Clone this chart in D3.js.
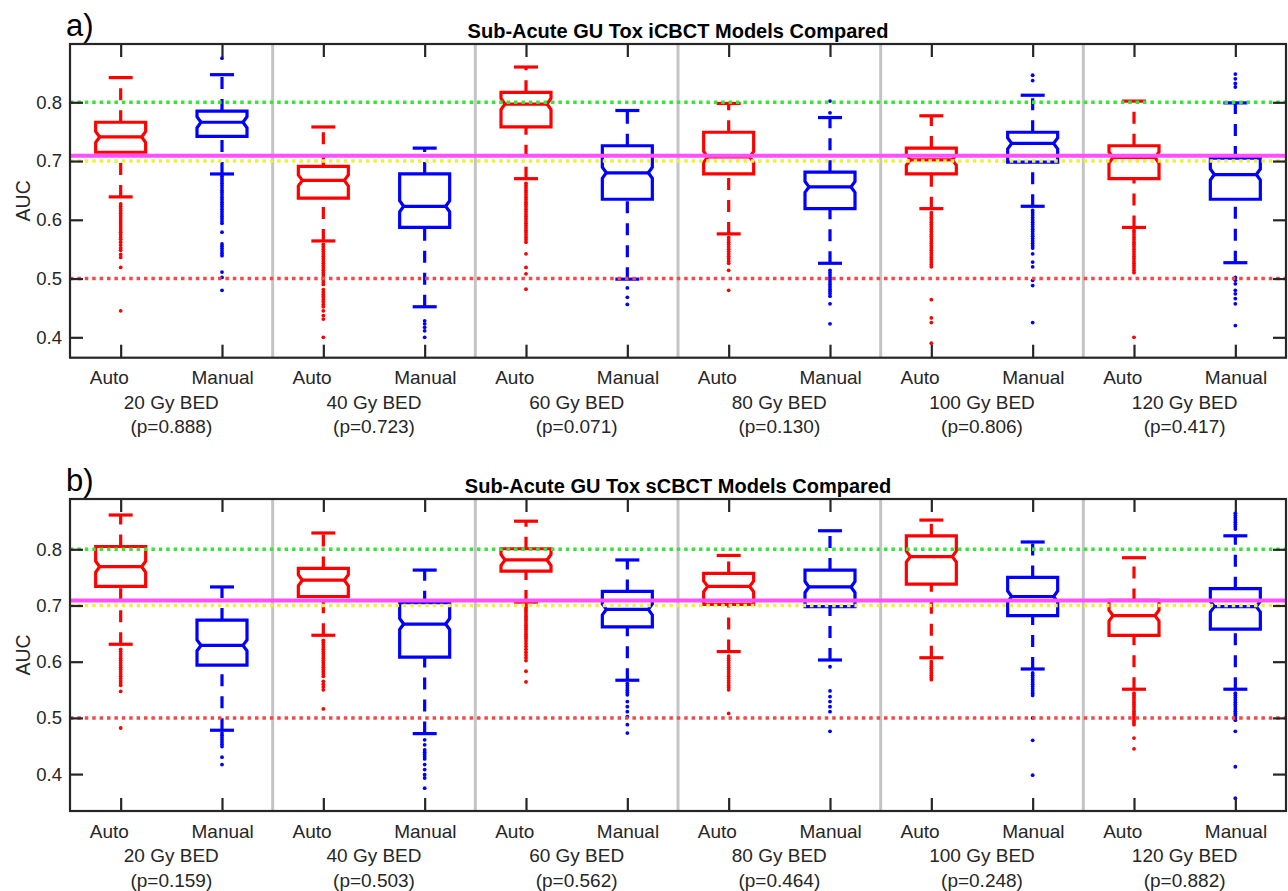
<!DOCTYPE html>
<html>
<head>
<meta charset="utf-8">
<script src="https://cdn.jsdelivr.net/npm/d3@7"></script>
<style>
  html, body { margin: 0; padding: 0; background: #fff; }
  svg { display: block; font-family: "Liberation Sans", Arial, Helvetica, sans-serif; }
</style>
</head>
<body>
<svg id="chart" width="1288" height="891"></svg>
<script>
// ---------------- DATA ----------------
const categories = ["Auto", "Manual"];
const doses = ["20 Gy BED", "40 Gy BED", "60 Gy BED", "80 Gy BED", "100 Gy BED", "120 Gy BED"];
const pValuesA = ["0.888", "0.723", "0.071", "0.130", "0.806", "0.417"];
const pValuesB = ["0.159", "0.503", "0.562", "0.464", "0.248", "0.882"];
const yTicks = [0.4, 0.5, 0.6, 0.7, 0.8];
const titles = ["Sub-Acute GU Tox iCBCT Models Compared", "Sub-Acute GU Tox sCBCT Models Compared"];
const panelLabels = ["a)", "b)"];
const yDomainA = [0.3653, 0.8992];
const yDomainB = [0.3343, 0.8895];
// reference lines: good (0.8), acceptable (0.7), chance (0.5), reference model (0.709)
const refGood = 0.8, refFair = 0.7, refChance = 0.5, refModel = 0.709;

// Box order: Auto20, Manual20, Auto40, Manual40, ..., Auto120, Manual120
const upperA  = [0.842, 0.847, 0.758, 0.722, 0.860, 0.786, 0.798, 0.774, 0.777, 0.812, 0.802, 0.799];
const q3A     = [0.766, 0.785, 0.691, 0.678, 0.817, 0.726, 0.749, 0.681, 0.722, 0.749, 0.726, 0.705];
const medianA = [0.741, 0.766, 0.667, 0.623, 0.797, 0.680, 0.707, 0.656, 0.702, 0.730, 0.706, 0.677];
const q1A     = [0.715, 0.742, 0.637, 0.587, 0.758, 0.635, 0.678, 0.619, 0.678, 0.698, 0.670, 0.635];
const lowerA  = [0.639, 0.678, 0.564, 0.452, 0.670, 0.499, 0.576, 0.526, 0.619, 0.623, 0.587, 0.527];
const outliersA = [
  [0.627,0.623,0.619,0.615,0.611,0.607,0.603,0.599,0.595,0.591,0.587,0.583,0.579,0.575,0.571,0.567,0.562,0.557,0.552,0.548,0.541,0.536,0.519,0.445],
  [0.875,0.674,0.670,0.666,0.662,0.658,0.654,0.650,0.646,0.642,0.638,0.634,0.630,0.626,0.622,0.618,0.614,0.610,0.606,0.602,0.598,0.594,0.579,0.559,0.555,0.551,0.547,0.543,0.539,0.511,0.502,0.480],
  [0.558,0.554,0.550,0.546,0.542,0.538,0.534,0.530,0.526,0.522,0.518,0.514,0.510,0.506,0.502,0.498,0.494,0.490,0.481,0.477,0.473,0.469,0.465,0.461,0.456,0.452,0.445,0.437,0.431,0.400],
  [0.428,0.423,0.417,0.411,0.400],
  [0.662,0.658,0.654,0.650,0.646,0.642,0.638,0.634,0.630,0.626,0.622,0.618,0.614,0.610,0.606,0.602,0.598,0.594,0.590,0.586,0.582,0.578,0.574,0.570,0.566,0.562,0.542,0.519,0.508,0.482],
  [0.484,0.468,0.456],
  [0.570,0.566,0.562,0.558,0.554,0.550,0.546,0.542,0.538,0.534,0.530,0.526,0.514,0.480],
  [0.802,0.782,0.514,0.510,0.506,0.502,0.498,0.494,0.490,0.486,0.482,0.478,0.474,0.470,0.457,0.423],
  [0.612,0.608,0.604,0.600,0.596,0.592,0.588,0.584,0.580,0.576,0.572,0.568,0.564,0.560,0.556,0.552,0.548,0.544,0.540,0.536,0.532,0.528,0.524,0.520,0.464,0.433,0.425,0.390],
  [0.846,0.837,0.616,0.612,0.608,0.604,0.600,0.596,0.592,0.588,0.584,0.580,0.576,0.572,0.568,0.564,0.560,0.556,0.552,0.542,0.528,0.520,0.497,0.488,0.425],
  [0.582,0.578,0.574,0.570,0.566,0.562,0.558,0.554,0.550,0.546,0.542,0.538,0.534,0.530,0.526,0.522,0.518,0.514,0.510,0.400],
  [0.848,0.840,0.832,0.826,0.502,0.497,0.491,0.480,0.474,0.466,0.457,0.420]
];

const upperB  = [0.861, 0.733, 0.829, 0.763, 0.850, 0.781, 0.789, 0.833, 0.852, 0.813, 0.785, 0.824];
const q3B     = [0.805, 0.674, 0.766, 0.705, 0.801, 0.725, 0.757, 0.763, 0.824, 0.750, 0.709, 0.730];
const medianB = [0.769, 0.629, 0.745, 0.667, 0.781, 0.693, 0.734, 0.733, 0.787, 0.716, 0.682, 0.698];
const q1B     = [0.734, 0.594, 0.716, 0.608, 0.761, 0.662, 0.702, 0.698, 0.738, 0.682, 0.647, 0.658];
const lowerB  = [0.631, 0.478, 0.647, 0.472, 0.706, 0.567, 0.618, 0.603, 0.607, 0.587, 0.551, 0.551];
const outliersB = [
  [0.622,0.618,0.614,0.610,0.606,0.602,0.598,0.594,0.590,0.586,0.582,0.578,0.574,0.570,0.566,0.562,0.558,0.547,0.482],
  [0.473,0.469,0.465,0.461,0.457,0.453,0.449,0.430,0.417],
  [0.638,0.634,0.630,0.626,0.622,0.618,0.614,0.610,0.606,0.602,0.598,0.594,0.590,0.586,0.582,0.578,0.574,0.565,0.560,0.555,0.550,0.516],
  [0.461,0.452,0.443,0.439,0.435,0.431,0.427,0.417,0.408,0.399,0.393,0.375],
  [0.701,0.697,0.693,0.689,0.685,0.681,0.677,0.673,0.669,0.665,0.661,0.657,0.653,0.649,0.645,0.641,0.637,0.632,0.627,0.622,0.617,0.612,0.607,0.602,0.583,0.564],
  [0.561,0.557,0.553,0.549,0.545,0.541,0.529,0.520,0.511,0.502,0.488,0.473],
  [0.610,0.606,0.602,0.598,0.594,0.590,0.586,0.582,0.578,0.574,0.570,0.566,0.562,0.558,0.554,0.550,0.508],
  [0.591,0.548,0.538,0.529,0.520,0.511,0.476],
  [0.600,0.596,0.592,0.588,0.584,0.580,0.576,0.572,0.568],
  [0.580,0.576,0.572,0.568,0.564,0.560,0.556,0.552,0.548,0.544,0.540,0.500,0.460,0.398],
  [0.544,0.540,0.536,0.532,0.528,0.524,0.520,0.516,0.512,0.508,0.504,0.500,0.496,0.492,0.488,0.464,0.445],
  [0.864,0.860,0.856,0.852,0.848,0.844,0.840,0.836,0.544,0.540,0.536,0.532,0.528,0.524,0.520,0.516,0.512,0.508,0.504,0.500,0.496,0.476,0.413,0.357]
];

// ---------------- LAYOUT / STYLE ----------------
const W = 1288, H = 891;
const plotLeft = 70, plotRight = 1286;
const panels = [
  { top: 44, bottom: 357.7, domain: yDomainA, titleY: 38, labelY: 36,
    upper: upperA, q3: q3A, med: medianA, q1: q1A, lower: lowerA, out: outliersA, p: pValuesA },
  { top: 499, bottom: 811, domain: yDomainB, titleY: 493, labelY: 491,
    upper: upperB, q3: q3B, med: medianB, q1: q1B, lower: lowerB, out: outliersB, p: pValuesB }
];
const colors = { Auto: "#ff0000", Manual: "#0000ff" };
const textColor = "#262626";
const boxHalf = 25, capHalf = 12, notchH = 5.5, notchIn = 4;
const markW = 3.2;

const svg = d3.select("#chart");
svg.append("rect").attr("width", W).attr("height", H).attr("fill", "#fff");

const nBoxes = doses.length * categories.length;
const positions = d3.range(1, nBoxes + 1);
const x = d3.scaleLinear().domain([0.5, nBoxes + 0.5]).range([plotLeft, plotRight]);

panels.forEach((P, pi) => {
  const y = d3.scaleLinear().domain(P.domain).range([P.bottom, P.top]);
  const g = svg.append("g");

  // group separators
  g.selectAll(".sep").data(d3.range(1, doses.length)).join("line")
    .attr("x1", d => x(d * 2 + 0.5)).attr("x2", d => x(d * 2 + 0.5))
    .attr("y1", P.top).attr("y2", P.bottom)
    .attr("stroke", "#c4c4c4").attr("stroke-width", 3);

  // boxes
  const boxes = positions.map((pos, i) => ({
    pos, cat: categories[i % 2],
    upper: P.upper[i], q3: P.q3[i], med: P.med[i], q1: P.q1[i], lower: P.lower[i], out: P.out[i]
  }));
  const bg = g.selectAll(".box").data(boxes).join("g").attr("class", "box");
  bg.each(function (d) {
    const s = d3.select(this);
    const c = colors[d.cat];
    const cx = x(d.pos);
    // outliers
    s.selectAll("circle").data(d.out).join("circle")
      .attr("cx", cx).attr("cy", v => y(v)).attr("r", 1.9).attr("fill", c);
    // upper whisker (from box to cap)
    s.append("line").attr("x1", cx).attr("x2", cx)
      .attr("y1", y(d.q3)).attr("y2", y(d.upper))
      .attr("stroke", c).attr("stroke-width", markW).attr("stroke-dasharray", "12,10");
    // lower whisker (from cap to box)
    s.append("line").attr("x1", cx).attr("x2", cx)
      .attr("y1", y(d.lower)).attr("y2", y(d.q1))
      .attr("stroke", c).attr("stroke-width", markW).attr("stroke-dasharray", "12,10");
    // caps
    [d.upper, d.lower].forEach(v => {
      s.append("line").attr("x1", cx - capHalf).attr("x2", cx + capHalf)
        .attr("y1", y(v)).attr("y2", y(v)).attr("stroke", c).attr("stroke-width", markW);
    });
    // notched box
    const yq1 = y(d.q1), yq3 = y(d.q3), ym = y(d.med);
    const L = cx - boxHalf, R = cx + boxHalf;
    const path = d3.path();
    path.moveTo(L, yq1);
    path.lineTo(L, ym + notchH); path.lineTo(L + notchIn, ym); path.lineTo(L, ym - notchH);
    path.lineTo(L, yq3); path.lineTo(R, yq3);
    path.lineTo(R, ym - notchH); path.lineTo(R - notchIn, ym); path.lineTo(R, ym + notchH);
    path.lineTo(R, yq1); path.closePath();
    s.append("path").attr("d", path.toString()).attr("fill", "none")
      .attr("stroke", c).attr("stroke-width", markW).attr("stroke-linejoin", "miter");
    s.append("line").attr("x1", L + notchIn).attr("x2", R - notchIn)
      .attr("y1", ym).attr("y2", ym).attr("stroke", c).attr("stroke-width", markW);
  });

  // reference lines
  const refs = [
    { v: refGood, c: "#38e438", w: 3.5, dash: "3.5,3.9" },
    { v: refFair, c: "#f0f03c", w: 3.5, dash: "3.5,3.9" },
    { v: refChance, c: "#f24a4a", w: 3.5, dash: "3.5,3.9" },
    { v: refModel, c: "#ff50ff", w: 4, dash: null }
  ];
  refs.forEach(r => {
    g.append("line").attr("x1", plotLeft).attr("x2", plotRight)
      .attr("y1", y(r.v)).attr("y2", y(r.v))
      .attr("stroke", r.c).attr("stroke-width", r.w)
      .attr("stroke-dasharray", r.dash);
  });

  // axes
  const axL = d3.axisLeft(y).tickValues(yTicks).tickSizeInner(-13).tickSizeOuter(0).tickPadding(8)
    .tickFormat(d3.format(".1f"));
  const axR = d3.axisRight(y).tickValues(yTicks).tickSizeInner(-13).tickSizeOuter(0).tickFormat("");
  const axB = d3.axisBottom(x).tickValues(positions).tickSizeInner(-13).tickSizeOuter(0).tickFormat("");
  const axT = d3.axisTop(x).tickValues(positions).tickSizeInner(-13).tickSizeOuter(0).tickFormat("");
  [[axL, `translate(${plotLeft},0)`], [axR, `translate(${plotRight},0)`],
   [axB, `translate(0,${P.bottom})`], [axT, `translate(0,${P.top})`]].forEach(([ax, tr]) => {
    const a = g.append("g").attr("transform", tr).call(ax);
    a.select(".domain").remove();
    a.selectAll(".tick line").attr("stroke", textColor).attr("stroke-width", 2.2);
    a.selectAll(".tick text").attr("fill", textColor).attr("font-size", 18.5)
      .attr("font-family", "Liberation Sans, Arial, sans-serif");
  });

  // frame
  g.append("rect").attr("x", plotLeft).attr("y", P.top)
    .attr("width", plotRight - plotLeft).attr("height", P.bottom - P.top)
    .attr("fill", "none").attr("stroke", textColor).attr("stroke-width", 2.2);

  // x labels
  doses.forEach((dose, k) => {
    const gc = x(k * 2 + 1.5);
    const base = P.bottom + 26.6;
    g.append("text").attr("x", gc - 81.5).attr("y", base).attr("font-size", 19)
      .attr("fill", textColor).attr("text-anchor", "start").text(categories[0]);
    g.append("text").attr("x", gc + 82.5).attr("y", base).attr("font-size", 19)
      .attr("fill", textColor).attr("text-anchor", "end").text(categories[1]);
    g.append("text").attr("x", gc).attr("y", base + 24.5).attr("font-size", 19)
      .attr("fill", textColor).attr("text-anchor", "middle").text(dose);
    g.append("text").attr("x", gc).attr("y", base + 49).attr("font-size", 19)
      .attr("fill", textColor).attr("text-anchor", "middle").text(`(p=${P.p[k]})`);
  });

  // y label
  g.append("text")
    .attr("transform", `translate(30,${(P.top + P.bottom) / 2}) rotate(-90)`)
    .attr("text-anchor", "middle").attr("font-size", 19.5).attr("fill", textColor).text("AUC");

  // title
  g.append("text").attr("x", (plotLeft + plotRight) / 2).attr("y", P.titleY)
    .attr("text-anchor", "middle").attr("font-size", 20).attr("font-weight", "bold")
    .attr("fill", "#000").text(titles[pi]);

  // panel label
  g.append("text").attr("x", 66).attr("y", P.labelY).attr("font-size", 31)
    .attr("fill", "#000").text(panelLabels[pi]);
});
</script>
</body>
</html>
